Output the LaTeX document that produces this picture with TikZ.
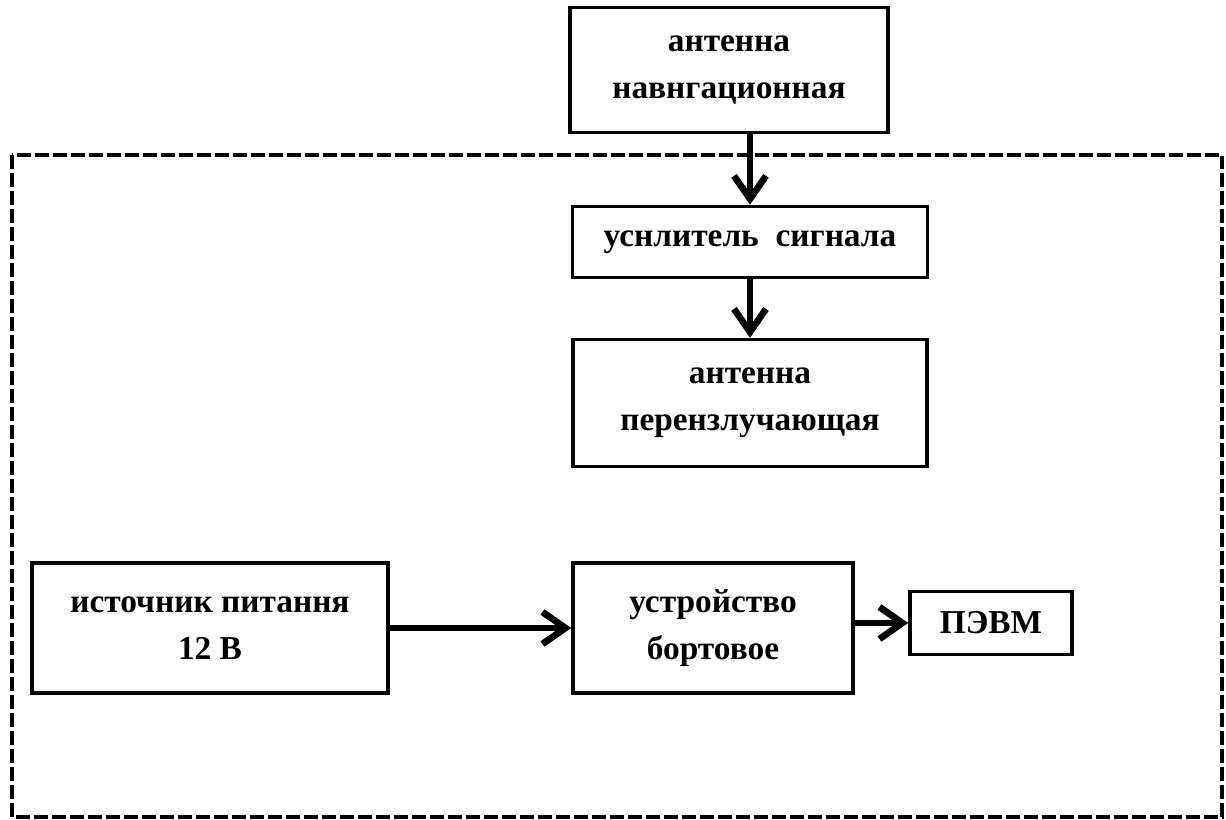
\documentclass[tikz,border=0pt]{standalone}
\usepackage{fontspec}
\setmainfont{Liberation Serif}
\usetikzlibrary{arrows.meta}
\begin{document}
\begin{tikzpicture}[x=0.02cm, y=-0.02cm,
	block/.style={draw, line width=2pt, align=center, inner sep=0pt, font=\bfseries\fontsize{19}{27}\selectfont},
	flow/.style={line width=3.8pt, -{Straight Barb[length=0.46cm, width=0.64cm]}}]
	\useasboundingbox (0,0) rectangle (1226,820);
	% frame
	\draw[line width=2pt, dash pattern=on 0.28cm off 0.08cm] (12,155) rectangle (1222,817);
	% blocks
	\node[block, minimum width=6.36cm, minimum height=2.5cm] (nav) at (729,70) {антенна\\навнгационная};
	\node[block, minimum width=7.1cm, minimum height=1.42cm] (amp) at (750,242) {уснлитель\ \ сигнала};
	\node[block, minimum width=7.08cm, minimum height=2.54cm] (rer) at (750,403) {антенна\\перензлучающая};
	\node[block, minimum width=7.12cm, minimum height=2.6cm] (src) at (210,628) {источник питання\\12 В};
	\node[block, minimum width=5.6cm, minimum height=2.6cm] (dev) at (713,628) {устройство\\бортовое};
	\node[block, minimum width=3.24cm, minimum height=1.26cm] (pc) at (991,623) {ПЭВМ};
	% links
	\draw[flow] (amp.north |- nav.south) -- (amp.north);
	\draw[flow] (amp) -- (rer);
	\draw[flow] (src) -- (dev);
	\draw[flow] (dev.east |- pc.west) -- (pc.west);
\end{tikzpicture}
\end{document}
